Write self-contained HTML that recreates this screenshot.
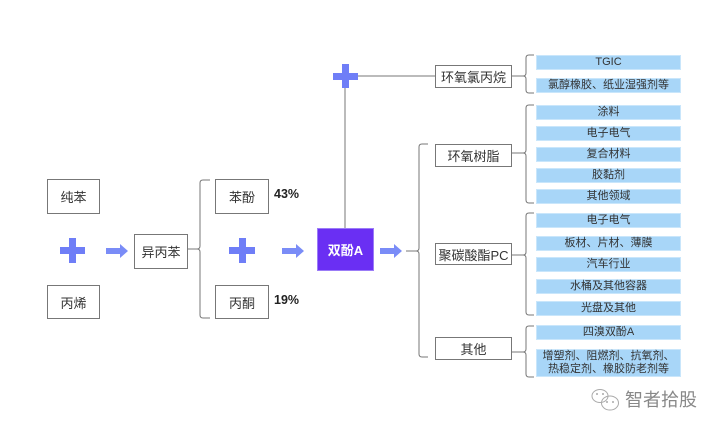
<!DOCTYPE html>
<html><head><meta charset="utf-8">
<style>
html,body{margin:0;padding:0;background:#fff;}
body{width:716px;height:432px;position:relative;overflow:hidden;font-family:"Liberation Sans","Noto Sans CJK SC",sans-serif;}
.b{position:absolute;box-sizing:border-box;border:1px solid #777;background:#fff;color:#333;font-size:13px;display:flex;align-items:center;justify-content:center;white-space:nowrap;}
.c{position:absolute;box-sizing:border-box;left:536px;width:145px;background:#a8d6f8;border:1px solid #c9e6fb;color:#333;font-size:11px;display:flex;align-items:center;justify-content:center;text-align:center;line-height:13px;white-space:nowrap;}
.p{position:absolute;font-size:12.5px;font-weight:bold;color:#222;}
svg{position:absolute;left:0;top:0;}
</style></head><body>
<svg width="716" height="432" viewBox="0 0 716 432">
<g fill="none" stroke="#777" stroke-width="1">
<!-- level0 bracket -->
<line x1="187" y1="249" x2="199" y2="249"/>
<path d="M210,180 L203,180 Q200,180 200,183 L200,246 Q200,249 197,249 Q200,249 200,252 L200,315 Q200,318 203,318 L210,318"/>
<!-- plus to ECH -->
<line x1="345" y1="76" x2="435" y2="76"/>
<line x1="345" y1="76" x2="345" y2="228"/>
<!-- level1 bracket -->
<line x1="406" y1="251" x2="418" y2="251"/>
<path d="M428,144 L422,144 Q419,144 419,147 L419,248 Q419,251 416,251 Q419,251 419,254 L419,354 Q419,357 422,357 L428,357"/>
<!-- ECH children -->
<line x1="511" y1="76" x2="523" y2="76"/>
<path d="M534,55 L529,55 Q526,55 526,58 L526,73 Q526,76 523,76 Q526,76 526,79 L526,90 Q526,93 529,93 L534,93"/>
<!-- epoxy resin children -->
<line x1="511" y1="153" x2="523" y2="153"/>
<path d="M534,105 L529,105 Q526,105 526,108 L526,150 Q526,153 523,153 Q526,153 526,156 L526,200 Q526,203 529,203 L534,203"/>
<!-- PC children -->
<line x1="511" y1="255" x2="523" y2="255"/>
<path d="M534,213 L529,213 Q526,213 526,216 L526,252 Q526,255 523,255 Q526,255 526,258 L526,312 Q526,315 529,315 L534,315"/>
<!-- other children -->
<line x1="511" y1="352" x2="523" y2="352"/>
<path d="M534,326 L529,326 Q526,326 526,329 L526,349 Q526,352 523,352 Q526,352 526,355 L526,374 Q526,377 529,377 L534,377"/>
</g>
<g fill="#6f7ef7">
<!-- plus 1 -->
<rect x="60" y="247" width="25" height="7"/>
<rect x="69" y="238" width="7" height="25"/>
<!-- plus 2 -->
<rect x="229" y="247" width="26" height="7"/>
<rect x="239" y="238" width="7" height="25"/>
<!-- plus top -->
<rect x="333" y="73" width="25" height="7"/>
<rect x="342" y="64" width="7" height="24"/>
</g>
<g fill="#7a8cf7">
<path d="M106,248 L120,248 L120,244 L128,251 L120,258 L120,254 L106,254 Z"/>
<path d="M282,248 L296,248 L296,244 L304,251 L296,258 L296,254 L282,254 Z"/>
<path d="M380,248 L394,248 L394,244 L402,251 L394,258 L394,254 L380,254 Z"/>
</g>
<!-- wechat icon -->
<g fill="none" stroke="#aaa" stroke-width="1">
<ellipse cx="600" cy="396" rx="8" ry="6.5"/>
<ellipse cx="610" cy="403" rx="8.5" ry="7"/>
</g>
<g fill="#aaa">
<circle cx="597" cy="394" r="1"/><circle cx="603" cy="394" r="1"/>
<circle cx="607" cy="402" r="1"/><circle cx="613" cy="402" r="1"/>
</g>
</svg>

<div class="b" style="left:47px;top:179px;width:53px;height:35px;">纯苯</div>
<div class="b" style="left:47px;top:285px;width:53px;height:34px;">丙烯</div>
<div class="b" style="left:134px;top:234px;width:54px;height:35px;">异丙苯</div>
<div class="b" style="left:215px;top:179px;width:54px;height:35px;">苯酚</div>
<div class="b" style="left:215px;top:285px;width:54px;height:34px;">丙酮</div>
<div class="p" style="left:274px;top:187px;">43%</div>
<div class="p" style="left:274px;top:293px;">19%</div>

<div style="position:absolute;left:317px;top:228px;width:57px;height:43px;box-sizing:border-box;background:#6a2ff3;border:1px solid #9b7cf7;color:#fff;font-weight:bold;font-size:13px;display:flex;align-items:center;justify-content:center;">双酚A</div>

<div class="b" style="left:435px;top:65px;width:77px;height:23px;">环氧氯丙烷</div>
<div class="b" style="left:435px;top:144px;width:77px;height:23px;">环氧树脂</div>
<div class="b" style="left:435px;top:243px;width:77px;height:22px;">聚碳酸酯PC</div>
<div class="b" style="left:435px;top:337px;width:77px;height:23px;">其他</div>

<div class="c" style="top:55px;height:15px;">TGIC</div>
<div class="c" style="top:78px;height:15px;">氯醇橡胶、纸业湿强剂等</div>
<div class="c" style="top:105px;height:15px;">涂料</div>
<div class="c" style="top:126px;height:15px;">电子电气</div>
<div class="c" style="top:147px;height:15px;">复合材料</div>
<div class="c" style="top:168px;height:15px;">胶黏剂</div>
<div class="c" style="top:189px;height:15px;">其他领域</div>
<div class="c" style="top:213px;height:15px;">电子电气</div>
<div class="c" style="top:236px;height:15px;">板材、片材、薄膜</div>
<div class="c" style="top:257px;height:15px;">汽车行业</div>
<div class="c" style="top:279px;height:15px;">水桶及其他容器</div>
<div class="c" style="top:301px;height:15px;">光盘及其他</div>
<div class="c" style="top:325px;height:15px;">四溴双酚A</div>
<div class="c" style="top:349px;height:28px;">增塑剂、阻燃剂、抗氧剂、<br>热稳定剂、橡胶防老剂等</div>

<div style="position:absolute;left:625px;top:388px;font-size:18px;color:#888;line-height:24px;white-space:nowrap;">智者拾股</div>
</body></html>
